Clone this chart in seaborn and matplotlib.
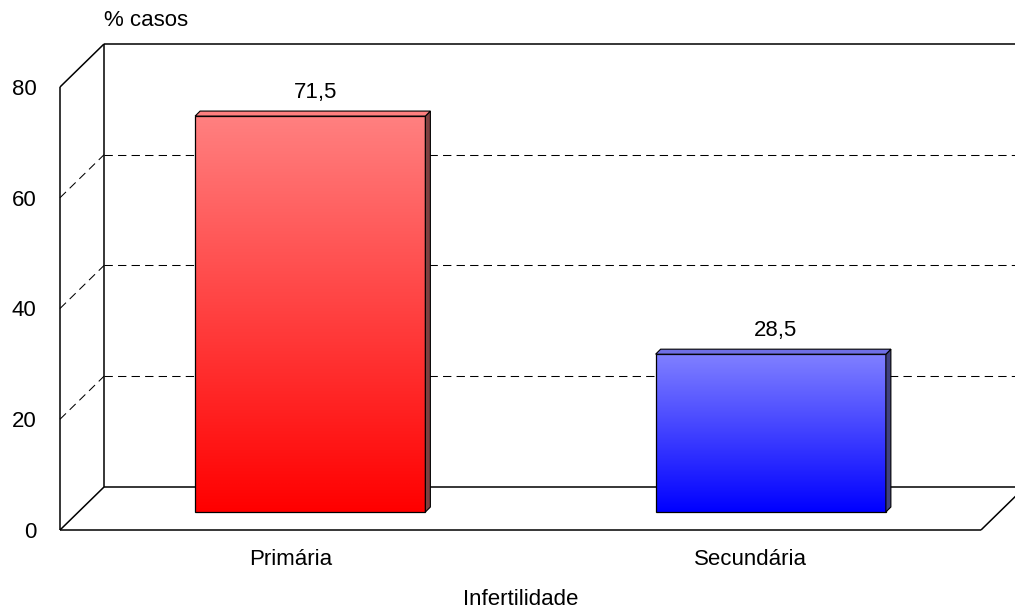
import numpy as np
import pandas as pd
import matplotlib
matplotlib.use("Agg")
import matplotlib.pyplot as plt
from matplotlib.patches import Polygon
import seaborn as sns

# ---- data ----
categories = ["Primária", "Secundária"]
percent = [71.5, 28.5]
value_labels = ["71,5", "28,5"]
y_ticks = [0, 20, 40, 60, 80]
grid_levels = [20, 40, 60]

# ---- colours ----
front_bottom = ["#ff0000", "#0000ff"]
front_top = ["#ff8080", "#8080ff"]
side_colors = ["#7f3f3f", "#40407f"]
cap_colors = ["#ff8080", "#6f6fe6"]

sns.set_theme(style="white")
plt.rcParams["font.family"] = ["Liberation Sans", "DejaVu Sans"]

W, H, DPI = 1015, 610, 100
fig = plt.figure(figsize=(W / DPI, H / DPI), dpi=DPI)
ax = fig.add_axes([60 / W, (H - 530) / H, 921 / W, 443 / H])
ax.set_facecolor("none")

df = pd.DataFrame({"tipo": categories, "pct": percent})
sns.barplot(data=df, x="tipo", y="pct", hue="tipo", palette=front_bottom,
            width=0.5, saturation=1, legend=False, ax=ax, zorder=3)

YMAX = 80
ax.set_xlim(-0.5, 1.5)
ax.set_ylim(0, YMAX)
ax.set_yticks(y_ticks)
sns.despine(ax=ax, left=True, bottom=True)
ax.tick_params(length=0, labelsize=16, colors="black")
ax.tick_params(axis="y", pad=17)
ax.tick_params(axis="x", pad=14)
ax.set_xlabel("Infertilidade", fontsize=16, labelpad=13.5, color="black")
ax.set_ylabel("")

x0, x1 = ax.get_xlim()
px_x = ax.bbox.width / (x1 - x0)
px_y = ax.bbox.height / YMAX


def px(dx, dy):
    """pixel offset -> data offset"""
    return dx / px_x, dy / px_y


wall_dx, wall_dy = px(44, 43)     # depth of the box
bar_dx, bar_dy = px(20, 18)       # depth of the bar row
cap_dx, cap_dy = px(5, 5)         # thickness of each bar

frame = dict(color="black", lw=1.1, clip_on=False, zorder=1,
             solid_capstyle="butt")
dash = dict(color="black", lw=0.75, clip_on=False, zorder=1,
            dashes=(8, 5))

# side wall and floor
ax.plot([x0, x0], [0, YMAX], **frame)
ax.plot([x0, x0 + wall_dx], [YMAX, YMAX + wall_dy], **frame)
ax.plot([x0, x0 + wall_dx], [0, wall_dy], **frame)
ax.plot([x0, x1], [0, 0], **frame)
ax.plot([x1, x1 + wall_dx], [0, wall_dy], **frame)
# back wall
ax.plot([x0 + wall_dx, x0 + wall_dx], [wall_dy, YMAX + wall_dy], **frame)
ax.plot([x0 + wall_dx, x1 + wall_dx], [YMAX + wall_dy] * 2, **frame)
ax.plot([x0 + wall_dx, x1 + wall_dx], [wall_dy] * 2, **frame)
# dashed gridlines on back and side walls
for g in grid_levels:
    ax.plot([x0 + wall_dx, x1 + wall_dx], [g + wall_dy] * 2, **dash)
    ax.plot([x0, x0 + wall_dx], [g, g + wall_dy], **dash)

# 3-D bars: shift into depth, gradient front, side and cap faces
for i, patch in enumerate(ax.patches):
    patch.set_x(patch.get_x() + bar_dx)
    patch.set_y(patch.get_y() + bar_dy)
    bx, by = patch.get_x(), patch.get_y()
    bw, bh = patch.get_width(), patch.get_height()
    top = by + bh

    c0 = np.array(matplotlib.colors.to_rgb(front_bottom[i]))
    c1 = np.array(matplotlib.colors.to_rgb(front_top[i]))
    t = np.linspace(0, 1, 256)[:, None, None]
    grad = c0 + (c1 - c0) * t
    im = ax.imshow(grad, extent=[bx, bx + bw, by, top], origin="lower",
                   aspect="auto", zorder=2, interpolation="bilinear")
    im.set_clip_on(False)

    patch.set_facecolor("none")
    patch.set_edgecolor("black")
    patch.set_linewidth(0.9)
    patch.set_clip_on(False)

    side = Polygon([(bx + bw, by), (bx + bw + cap_dx, by + cap_dy),
                    (bx + bw + cap_dx, top + cap_dy), (bx + bw, top)],
                   closed=True, facecolor=side_colors[i], edgecolor="black",
                   lw=0.8, zorder=3, clip_on=False)
    cap = Polygon([(bx, top), (bx + cap_dx, top + cap_dy),
                   (bx + bw + cap_dx, top + cap_dy), (bx + bw, top)],
                  closed=True, facecolor=cap_colors[i], edgecolor="black",
                  lw=0.8, zorder=3, clip_on=False)
    ax.add_patch(side)
    ax.add_patch(cap)

    lx = bx + bw / 2 + cap_dx
    ly = top + cap_dy + 19 / px_y
    ax.text(lx, ly, value_labels[i], ha="center", va="center",
            fontsize=16, color="black", clip_on=False)

ax.set_xlim(x0, x1)
ax.set_ylim(0, YMAX)

fig.text(104 / W, 1 - 21 / H, "% casos", ha="left", va="center",
         fontsize=16, color="black")

fig.savefig("out.png", dpi=DPI, facecolor="white")
